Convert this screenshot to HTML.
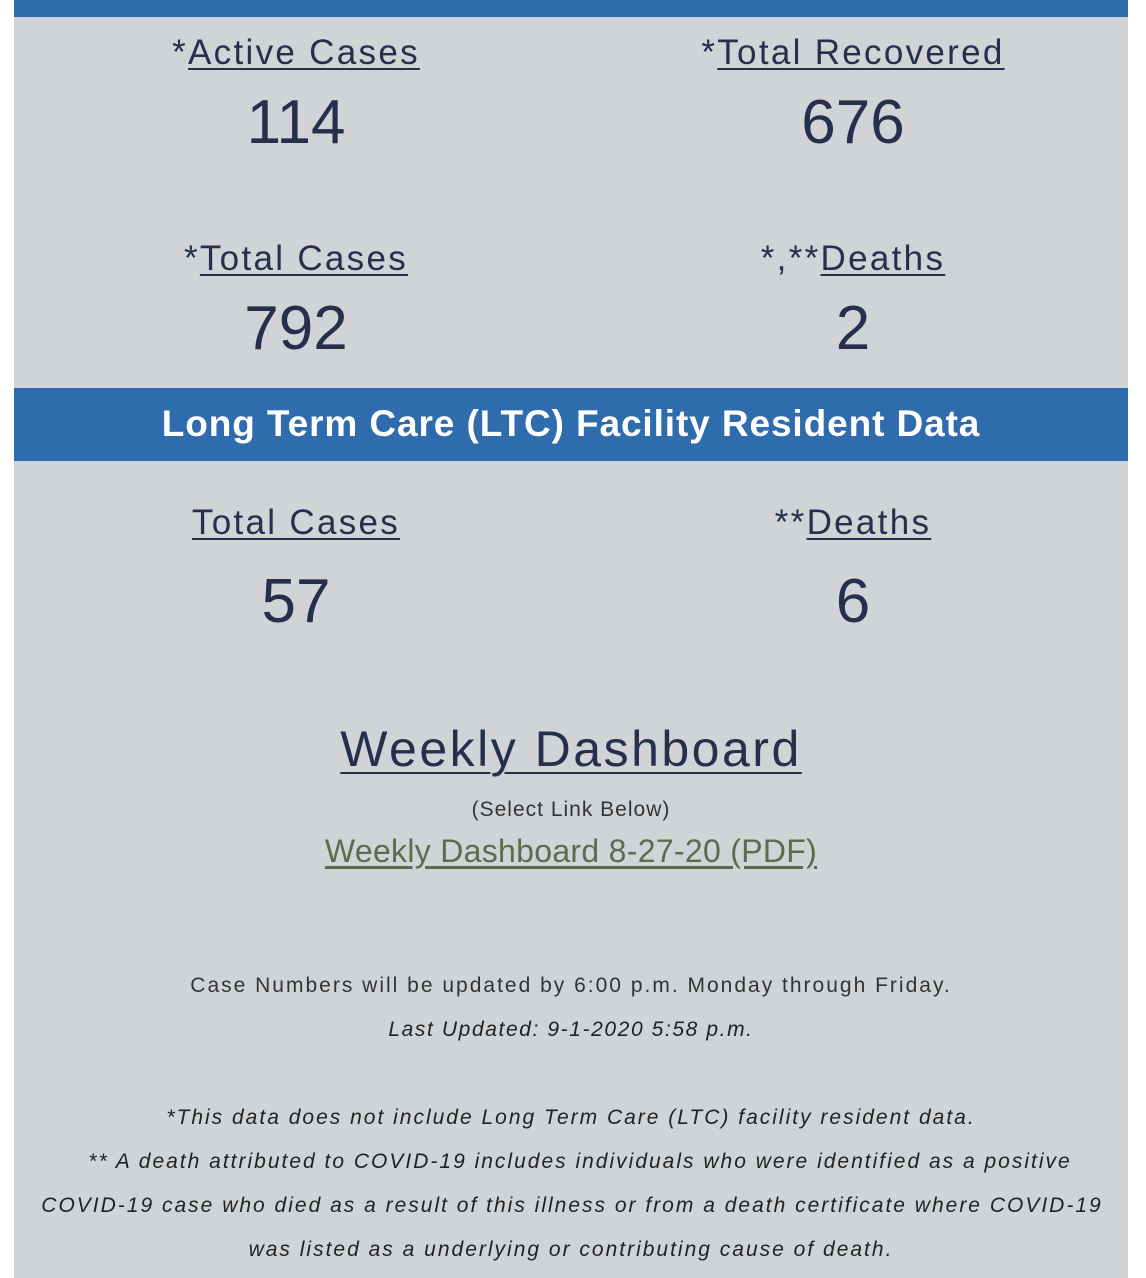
<!DOCTYPE html>
<html><head><meta charset="utf-8"><style>
html,body{margin:0;padding:0;background:#fff;width:1146px;height:1278px;overflow:hidden}
body{font-family:"Liberation Sans",sans-serif;color:#26304d;position:relative}
.panel{position:absolute;left:14px;top:0;width:1114px;height:1278px;background:#d1d4d7}
.bar{position:absolute;left:14px;width:1114px;background:#2e6cae}
.t{position:absolute;white-space:nowrap;transform:translateX(-50%);text-align:center}
.h{font-size:35px;line-height:40px;letter-spacing:2.3px}
.h u{text-decoration:underline;text-decoration-thickness:2px;text-underline-offset:4px}
.n{font-size:62px;line-height:70px}
.s{font-size:21px;line-height:26px;color:#333;letter-spacing:2px}
.i{font-style:italic;color:#222;letter-spacing:2px}
</style></head><body>
<div class="panel"></div>
<div class="bar" style="top:0;height:17px"></div>
<div class="bar" style="top:388px;height:73px"></div>

<div class="t h" style="left:296px;top:33px">*<u>Active Cases</u></div>
<div class="t n" style="left:296px;top:88px">114</div>
<div class="t h" style="left:853px;top:33px">*<u>Total Recovered</u></div>
<div class="t n" style="left:853px;top:88px">676</div>

<div class="t h" style="left:296px;top:239px">*<u>Total Cases</u></div>
<div class="t n" style="left:296px;top:294px">792</div>
<div class="t h" style="left:853px;top:239px">*,**<u>Deaths</u></div>
<div class="t n" style="left:853px;top:294px">2</div>

<div class="t" style="left:571px;top:402px;font-size:37px;line-height:44px;color:#fff;font-weight:bold;letter-spacing:0.9px">Long Term Care (LTC) Facility Resident Data</div>

<div class="t h" style="left:296px;top:503px"><u>Total Cases</u></div>
<div class="t n" style="left:296px;top:567px">57</div>
<div class="t h" style="left:853px;top:503px">**<u>Deaths</u></div>
<div class="t n" style="left:853px;top:567px">6</div>

<div class="t" style="left:571px;top:720px;font-size:50px;line-height:58px;letter-spacing:2.5px"><u style="text-underline-offset:6px;text-decoration-thickness:2px">Weekly Dashboard</u></div>
<div class="t" style="left:571px;top:797px;font-size:21px;line-height:26px;color:#333;letter-spacing:1px">(Select Link Below)</div>
<div class="t" style="left:571px;top:832px;font-size:32px;line-height:38px;color:#5e6b4e;letter-spacing:0.3px"><u style="text-underline-offset:4px">Weekly Dashboard 8-27-20 (PDF)</u></div>

<div class="t s" style="left:571px;top:973px">Case Numbers will be updated by 6:00 p.m. Monday through Friday.</div>
<div class="t s i" style="left:571px;top:1017px;letter-spacing:1.6px">Last Updated: 9-1-2020 5:58 p.m.</div>

<div class="t s i" style="left:571px;top:1105px">*This data does not include Long Term Care (LTC) facility resident data.</div>
<div class="t s i" style="left:580px;top:1149px">** A death attributed to COVID-19 includes individuals who were identified as a positive</div>
<div class="t s i" style="left:572px;top:1193px">COVID-19 case who died as a result of this illness or from a death certificate where COVID-19</div>
<div class="t s i" style="left:571px;top:1237px">was listed as a underlying or contributing cause of death.</div>
</body></html>
